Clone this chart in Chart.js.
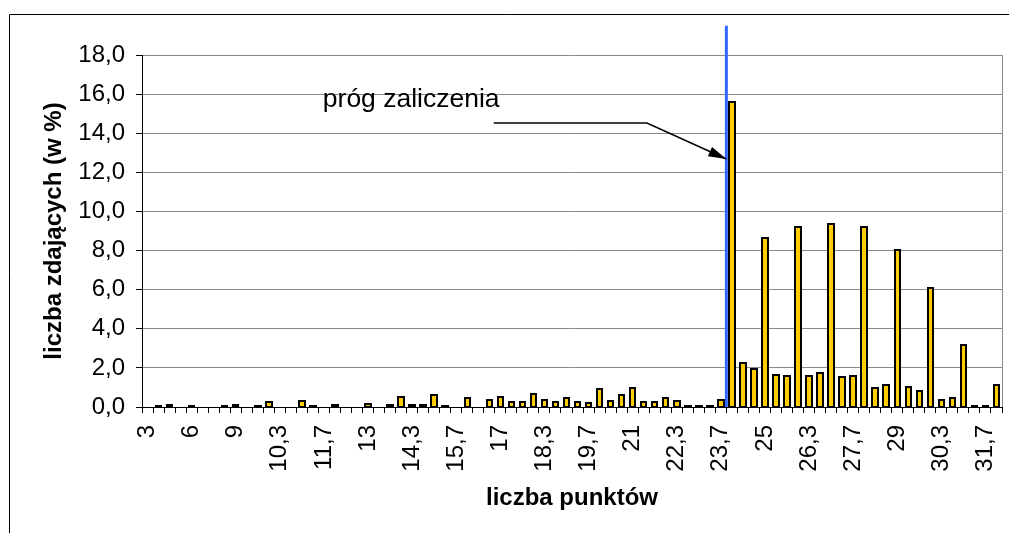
<!DOCTYPE html>
<html>
<head>
<meta charset="utf-8">
<script src="https://cdn.jsdelivr.net/npm/chart.js@4"></script>
<style>
html, body { margin: 0; padding: 0; background: #fff; }
#wrap { width: 1009px; height: 533px; }
</style>
</head>
<body>
<div id="wrap"><canvas id="chart" width="1009" height="533"></canvas></div>
<script>
// liczba punktów (kategorie)
const labels = ['3','4','4,5','5','6','7','7,5','8','9',
  '9,3','9,7','10','10,3','10,7','11','11,3','11,7','12','12,3','12,7',
  '13','13,3','13,7','14','14,3','14,7','15','15,3','15,7','16',
  '16,3','16,7','17','17,3','17,7','18','18,3','18,7','19','19,3',
  '19,7','20','20,3','20,7','21','21,3','21,7','22','22,3','22,7',
  '23','23,3','23,7','24','24,3','24,7','25','25,3','25,7','26',
  '26,3','26,7','27','27,3','27,7','28','28,3','28,7','29','29,3',
  '29,7','30','30,3','30,7','31','31,3','31,7','32'];

// liczba zdających w %
const values = [0, 0.05, 0.1, 0, 0.05, 0, 0, 0.05, 0.1,
  0, 0.05, 0.25, 0, 0, 0.3, 0.05, 0, 0.1, 0, 0,
  0.15, 0, 0.1, 0.5, 0.1, 0.1, 0.6, 0.05, 0, 0.45,
  0, 0.35, 0.5, 0.25, 0.25, 0.65, 0.35, 0.25, 0.48, 0.25,
  0.2, 0.9, 0.3, 0.63, 0.97, 0.24, 0.24, 0.44, 0.29, 0.05,
  0.05, 0.05, 0.36, 15.6, 2.23, 1.92, 8.62, 1.62, 1.6, 9.18,
  1.6, 1.72, 9.35, 1.53, 1.6, 9.18, 0.97, 1.14, 8.01, 1.02,
  0.8, 6.07, 0.36, 0.46, 3.18, 0.03, 0.03, 1.1];

// etykiety widoczne na osi X
const shownTicks = ['3','6','9','10,3','11,7','13','14,3','15,7','17','18,3',
  '19,7','21','22,3','23,7','25','26,3','27,7','29','30,3','31,7'];

const yMax = 18;
const yStep = 2;
const thresholdAfter = '23,7'; // próg zaliczenia między 23,7 a 24

const FONT = '"Liberation Sans", Arial, sans-serif';

// obramowanie słupków jak w Excelu (kreska na krawędzi, także dla małych wartości)
const barOutline = {
    id: 'barOutline',
    afterDatasetsDraw(chart) {
        const { ctx } = chart;
        const meta = chart.getDatasetMeta(0);
        ctx.save();
        ctx.strokeStyle = '#000';
        ctx.lineWidth = 2;
        meta.data.forEach((bar, i) => {
            if (!values[i]) return;
            const { x, y, base, width } = bar.getProps(['x', 'y', 'base', 'width'], true);
            const l = Math.round(x - width / 2);
            const r = Math.round(x + width / 2);
            const t = Math.round(y);
            const b = Math.round(base);
            ctx.strokeRect(l, t, r - l, b - t);
        });
        ctx.restore();
    }
};

// linia progu, strzałka, napis i ramki
const extras = {
    id: 'extras',
    afterDatasetsDraw(chart) {
        const { ctx, chartArea: a, scales: { x, y } } = chart;
        ctx.save();

        // prawa krawędź obszaru wykresu
        const rx = Math.round(a.right) + 0.5;
        ctx.strokeStyle = '#8a8a8a';
        ctx.lineWidth = 1;
        ctx.beginPath();
        ctx.moveTo(rx, a.top);
        ctx.lineTo(rx, a.bottom);
        ctx.stroke();

        // niebieska linia progu
        const ti = labels.indexOf(thresholdAfter) + 0.5;
        const tx = x.getPixelForValue(ti);
        ctx.strokeStyle = '#3366ff';
        ctx.lineWidth = 3;
        ctx.beginPath();
        ctx.moveTo(tx, y.getPixelForValue(19.5));
        ctx.lineTo(tx, a.bottom);
        ctx.stroke();

        // strzałka
        const p0 = [x.getPixelForValue(31.4), y.getPixelForValue(14.52)];
        const p1 = [x.getPixelForValue(45.3), y.getPixelForValue(14.52)];
        const p2 = [tx, y.getPixelForValue(12.68)];
        ctx.strokeStyle = '#000';
        ctx.lineWidth = 1.5;
        ctx.beginPath();
        ctx.moveTo(p0[0], p0[1]);
        ctx.lineTo(p1[0], p1[1]);
        ctx.lineTo(p2[0], p2[1]);
        ctx.stroke();
        const ang = Math.atan2(p2[1] - p1[1], p2[0] - p1[0]);
        const len = 18, hw = 5;
        ctx.fillStyle = '#000';
        ctx.beginPath();
        ctx.moveTo(p2[0], p2[1]);
        ctx.lineTo(p2[0] - len * Math.cos(ang) + hw * Math.sin(ang), p2[1] - len * Math.sin(ang) - hw * Math.cos(ang));
        ctx.lineTo(p2[0] - len * Math.cos(ang) - hw * Math.sin(ang), p2[1] - len * Math.sin(ang) + hw * Math.cos(ang));
        ctx.closePath();
        ctx.fill();

        // napis
        ctx.font = '26.5px ' + FONT;
        ctx.textAlign = 'left';
        ctx.textBaseline = 'alphabetic';
        ctx.fillText('próg zaliczenia', x.getPixelForValue(15.9), y.getPixelForValue(15.32));

        ctx.restore();
    },
    afterDraw(chart) {
        const { ctx, width } = chart;
        ctx.save();
        ctx.strokeStyle = '#000';
        ctx.lineWidth = 1;
        ctx.beginPath();
        ctx.moveTo(9.5, chart.height);
        ctx.lineTo(9.5, 14.5);
        ctx.lineTo(width, 14.5);
        ctx.stroke();
        ctx.restore();
    }
};

const ctx = document.getElementById('chart').getContext('2d');
new Chart(ctx, {
    type: 'bar',
    data: {
        labels: labels,
        datasets: [{
            data: values,
            backgroundColor: '#ffcc00',
            borderWidth: 0,
            inflateAmount: 0,
            barPercentage: 0.5,
            categoryPercentage: 1
        }]
    },
    options: {
        responsive: false,
        animation: false,
        devicePixelRatio: 1,
        layout: { padding: { top: 55, right: 7, left: 0, bottom: 0 } },
        plugins: {
            legend: { display: false },
            tooltip: { enabled: false }
        },
        scales: {
            x: {
                offset: true,
                grid: {
                    offset: true,
                    drawOnChartArea: false,
                    drawTicks: true,
                    tickLength: 6,
                    color: '#000'
                },
                border: { color: '#000', width: 1 },
                ticks: {
                    autoSkip: false,
                    minRotation: 90,
                    maxRotation: 90,
                    padding: 12,
                    color: '#000',
                    font: { family: FONT, size: 24 },
                    callback: function (v, i) {
                        const l = labels[i];
                        return shownTicks.includes(l) ? l : '';
                    }
                },
                title: {
                    display: true,
                    text: 'liczba punktów',
                    color: '#000',
                    font: { family: FONT, size: 24, weight: 'bold' },
                    padding: { top: 0, bottom: 20 }
                },
                afterFit: function (s) {
                    s.height = 126;
                    s.paddingLeft = 0;
                    s.paddingRight = 0;
                }
            },
            y: {
                min: 0,
                max: yMax,
                grid: {
                    color: c => (c.tick && c.tick.value === 0) ? 'rgba(0,0,0,0)' : '#8a8a8a',
                    tickColor: '#000',
                    tickLength: 6
                },
                border: { color: '#000', width: 1 },
                ticks: {
                    stepSize: yStep,
                    padding: 11,
                    color: '#000',
                    font: { family: FONT, size: 24 },
                    callback: v => v.toFixed(1).replace('.', ',')
                },
                title: {
                    display: true,
                    text: 'liczba zdających (w %)',
                    color: '#000',
                    font: { family: FONT, size: 24, weight: 'bold' },
                    padding: { top: 40, bottom: 0 }
                },
                afterFit: function (s) {
                    s.width = 142;
                }
            }
        }
    },
    plugins: [barOutline, extras]
});
</script>
</body>
</html>
